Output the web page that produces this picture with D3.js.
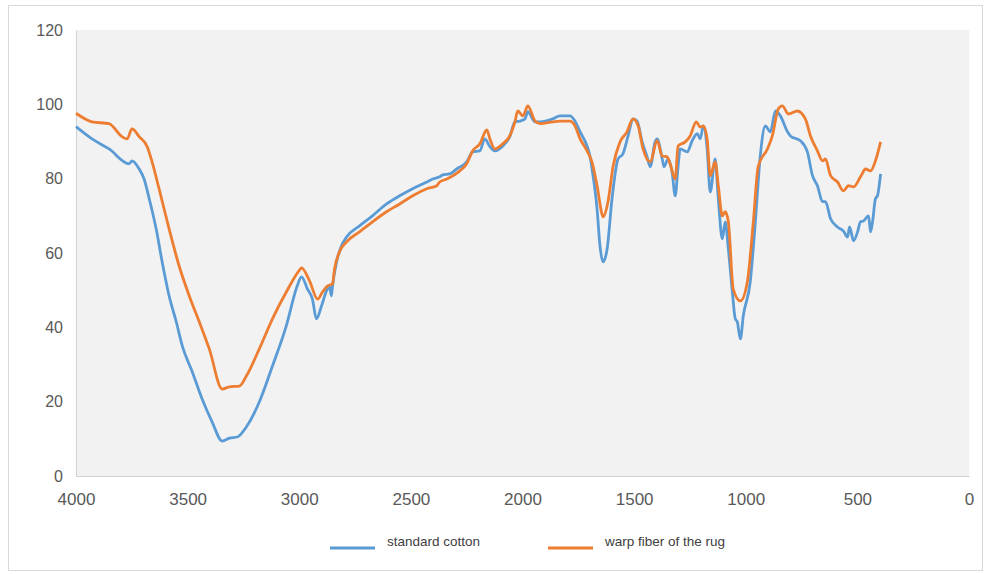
<!DOCTYPE html>
<html>
<head>
<meta charset="utf-8">
<script src="https://cdn.jsdelivr.net/npm/d3@7"></script>
<style>
  body { margin: 0; background: #fff; }
  svg { display: block; font-family: "Liberation Sans", Arial, sans-serif; }
</style>
</head>
<body>
<div id="container"></div>
<script>
/***** data *****/
const seriesNames = ["standard cotton", "warp fiber of the rug"];
const seriesColors = ["#5b9bd5", "#ed7d31"];

const xTicks = [4000, 3500, 3000, 2500, 2000, 1500, 1000, 500, 0];
const yTicks = [0, 20, 40, 60, 80, 100, 120];

// standard cotton
const cottonWn = [4000, 3928, 3852, 3762, 3749, 3717, 3695, 3672, 3641, 3614, 3583, 3551, 3524, 3479, 3435, 3390, 3345, 3313, 3277, 3237, 3179, 3120, 3058, 3010, 2990,
  2963, 2941, 2923, 2900, 2878, 2865, 2856, 2851, 2833, 2811, 2788, 2730, 2672, 2609, 2550, 2492, 2429, 2402, 2371, 2357, 2326, 2295, 2250, 2223, 2191, 2169, 2146, 2124,
  2088, 2057, 2034, 2012, 1989, 1976, 1944, 1922, 1864, 1832, 1787, 1765, 1742, 1711, 1698, 1684, 1666, 1653, 1639, 1621, 1599, 1572, 1550, 1527, 1505, 1487, 1464, 1442,
  1428, 1406, 1397, 1374, 1366, 1348, 1330, 1316, 1303, 1294, 1262, 1240, 1217, 1204, 1190, 1173, 1159, 1137, 1123, 1105, 1092, 1078, 1060, 1047, 1038, 1024, 1011, 980,
  957, 935, 912, 890, 867, 845, 813, 800, 755, 724, 701, 679, 656, 643, 620, 589, 562, 544, 535, 517, 499, 486, 473, 450, 441, 432, 419, 410, 396];
const cottonT = [94.0, 90.7, 88.0, 84.0, 84.8, 82.6, 79.9, 74.6, 66.5, 57.6, 48.5, 41.5, 35.0, 28.0, 20.7, 14.5, 9.4, 10.2, 10.5, 13.2, 19.9, 29.6, 40.4, 51.0, 53.6,
  50.3, 47.6, 42.3, 45.8, 49.8, 51.1, 48.5, 51.1, 57.6, 61.9, 64.3, 67.3, 70.0, 73.2, 75.4, 77.3, 79.1, 79.9, 80.5, 81.0, 81.3, 82.6, 84.5, 87.2, 87.5, 90.7, 88.6, 87.5,
  88.8, 91.3, 95.3, 95.5, 96.1, 98.0, 95.3, 95.3, 96.1, 96.9, 96.9, 95.5, 92.6, 88.8, 86.1, 80.8, 71.9, 61.9, 57.6, 61.1, 74.6, 85.3, 86.7, 91.5, 96.1, 95.5, 89.9, 85.9,
  83.2, 89.9, 90.7, 85.3, 83.2, 85.3, 81.8, 75.4, 83.4, 88.0, 87.2, 90.2, 92.1, 90.7, 94.2, 88.0, 76.4, 85.3, 74.6, 63.8, 68.4, 61.1, 49.5, 42.3, 41.5, 36.9, 43.1, 52.2,
  68.4, 86.1, 94.2, 92.6, 98.2, 96.9, 92.6, 91.5, 90.2, 87.2, 80.8, 78.1, 73.8, 73.8, 69.2, 67.0, 65.9, 64.3, 67.0, 63.3, 65.7, 68.4, 68.6, 70.0, 65.7, 68.4, 74.6, 75.4, 81.3];

// warp fiber of the rug
const warpWn = [4000, 3928, 3852, 3794, 3771, 3749, 3717, 3681, 3663, 3628, 3583, 3538, 3493, 3448, 3403, 3345, 3313, 3268, 3237, 3179, 3120, 3058, 2999, 2990,
  2954, 2918, 2896, 2874, 2851, 2842, 2820, 2788, 2730, 2672, 2609, 2550, 2492, 2429, 2384, 2371, 2339, 2281, 2250, 2223, 2191, 2160, 2146, 2124, 2088, 2057, 2034,
  2021, 1998, 1976, 1944, 1922, 1864, 1832, 1787, 1765, 1742, 1711, 1689, 1666, 1644, 1639, 1617, 1594, 1563, 1532, 1505, 1482, 1460, 1428, 1397, 1374, 1352, 1339,
  1316, 1303, 1271, 1249, 1222, 1204, 1190, 1173, 1159, 1137, 1123, 1105, 1092, 1078, 1056, 1024, 993, 966, 944, 903, 881, 854, 836, 809, 769, 733, 710, 679, 656,
  643, 620, 589, 562, 540, 517, 486, 463, 441, 419, 396];
const warpT = [97.6, 95.3, 94.8, 91.3, 90.7, 93.4, 91.3, 88.6, 85.3, 77.3, 66.5, 56.5, 48.5, 41.5, 34.2, 23.4, 24.0, 24.2, 26.9, 34.2, 42.3, 49.5, 55.4, 56.0,
  52.5, 47.6, 49.5, 51.1, 51.7, 55.7, 60.3, 63.0, 65.7, 68.4, 71.1, 73.2, 75.4, 77.3, 78.1, 79.1, 79.9, 82.1, 84.0, 87.5, 89.4, 93.1, 90.7, 88.0, 89.4, 91.5, 95.3,
  98.2, 96.9, 99.6, 95.5, 94.8, 95.3, 95.5, 95.5, 94.2, 90.7, 87.5, 84.5, 78.1, 70.5, 69.7, 73.8, 83.4, 89.9, 92.6, 96.1, 94.2, 88.0, 84.5, 90.2, 86.1, 85.9, 84.0,
  79.9, 88.8, 89.9, 91.5, 95.3, 93.9, 94.2, 90.7, 80.8, 84.5, 78.1, 70.0, 71.1, 68.4, 50.3, 47.1, 52.2, 68.4, 83.4, 88.0, 91.5, 98.8, 99.6, 97.4, 98.2, 96.1, 91.5,
  87.5, 84.8, 85.3, 80.8, 79.1, 76.7, 78.1, 77.8, 80.5, 82.6, 82.1, 84.8, 89.9];

/***** chart *****/
const W = 986, H = 574;
const margin = {top: 30, right: 17, bottom: 98, left: 76};
const width = W - margin.left - margin.right,
      height = H - margin.top - margin.bottom;

const svg = d3.select("#container")
  .append("svg")
    .attr("width", W)
    .attr("height", H);

// outer frame
svg.append("rect")
  .attr("x", 8.5).attr("y", 5.5)
  .attr("width", 974).attr("height", 565)
  .attr("fill", "#fff")
  .attr("stroke", "#d9d9d9");

const viz = svg.append("g")
  .attr("transform", "translate(" + margin.left + "," + margin.top + ")");

const x = d3.scaleLinear().domain([4000, 0]).range([0, width]);
const y = d3.scaleLinear().domain([0, 120]).range([height, 0]);

// plot background
viz.append("rect")
  .attr("width", width)
  .attr("height", height)
  .attr("fill", "#f2f2f2");

// X axis
const xAxis = viz.append("g")
  .attr("transform", "translate(0," + height + ")")
  .call(d3.axisBottom(x).tickValues(xTicks).tickFormat(d3.format("d")).tickSize(0).tickPadding(17));
xAxis.select(".domain").attr("stroke", "#d0d0d0");
xAxis.selectAll("text").attr("fill", "#595959").attr("font-size", 17);

// Y axis
const yAxis = viz.append("g")
  .call(d3.axisLeft(y).tickValues(yTicks).tickFormat(d3.format("d")).tickSize(0).tickPadding(13));
yAxis.select(".domain").attr("stroke", "#d0d0d0");
yAxis.selectAll("text").attr("fill", "#595959").attr("font-size", 16);

// lines
const series = [
  {name: seriesNames[0], color: seriesColors[0], wn: cottonWn, t: cottonT},
  {name: seriesNames[1], color: seriesColors[1], wn: warpWn, t: warpT}
];

const line = d3.line()
  .x(d => x(d[0]))
  .y(d => y(d[1]))
  .curve(d3.curveMonotoneX);

series.forEach(s => {
  viz.append("path")
    .datum(d3.zip(s.wn, s.t))
    .attr("fill", "none")
    .attr("stroke", s.color)
    .attr("stroke-width", 2.8)
    .attr("stroke-linejoin", "round")
    .attr("d", line);
});

// legend
const legendX = [330, 548];
const legend = svg.append("g").attr("transform", "translate(0,548)");
series.forEach((s, i) => {
  legend.append("line")
    .attr("x1", legendX[i]).attr("x2", legendX[i] + 45)
    .attr("y1", 0).attr("y2", 0)
    .attr("stroke", s.color)
    .attr("stroke-width", 3);
  legend.append("text")
    .attr("x", legendX[i] + 57)
    .attr("y", -2)
    .attr("fill", "#404040")
    .attr("font-size", 13.5)
    .text(s.name);
});
</script>
</body>
</html>
